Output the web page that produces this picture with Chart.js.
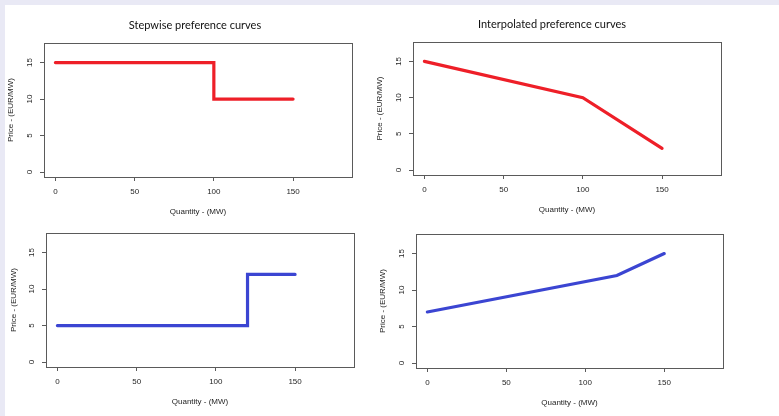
<!DOCTYPE html>
<html>
<head>
<meta charset="utf-8">
<script src="https://cdn.jsdelivr.net/npm/chart.js@4.4.1/dist/chart.umd.min.js"></script>
<style>
  html, body { margin: 0; padding: 0; }
  body { width: 779px; height: 416px; background: #e9e9f5; position: relative; overflow: hidden; }
  #sheet { position: absolute; left: 5px; top: 5px; right: 0; bottom: 0; background: #ffffff; }
  canvas { position: absolute; }
</style>
</head>
<body>
<div id="sheet"></div>
<canvas id="c1" width="384" height="212" style="left:5px;top:5px"></canvas>
<canvas id="c2" width="400" height="212" style="left:372px;top:5px"></canvas>
<canvas id="c3" width="384" height="200" style="left:5px;top:215px"></canvas>
<canvas id="c4" width="400" height="200" style="left:372px;top:215px"></canvas>
<script>
// ---- data ----
const xTickValues = [0, 50, 100, 150];
const yTickValues = [0, 5, 10, 15];

const stepQuantityRed = [0, 100, 150];
const stepPriceRed = [15, 10, 10];

const interpQuantityRed = [0, 100, 150];
const interpPriceRed = [15, 10, 3];

const stepQuantityBlue = [0, 120, 150];
const stepPriceBlue = [5, 12, 12];

const interpQuantityBlue = [0, 120, 150];
const interpPriceBlue = [7, 12, 15];

const titleStep = 'Stepwise preference curves';
const titleInterp = 'Interpolated preference curves';
const xAxisTitle = 'Quantity - (MW)';
const yAxisTitle = 'Price - (EUR/MW)';

// ---- styling ----
const RED = '#ee1f28';
const BLUE = '#3b45d2';
const AXIS_FONT = { family: "'Liberation Sans', Arial, sans-serif", size: 8 };
const TITLE_FONT = "11px Lato, sans-serif";

const frameAndTitle = {
  id: 'frameAndTitle',
  beforeDatasetsDraw(chart, args, opts) {
    const a = chart.chartArea;
    const ctx = chart.ctx;
    ctx.save();
    ctx.strokeStyle = '#5a5a5a';
    ctx.lineWidth = 1;
    ctx.strokeRect(Math.round(a.left) + 0.5, Math.round(a.top) + 0.5,
                   Math.round(a.right - a.left), Math.round(a.bottom - a.top));
    ctx.restore();
  },
  afterDraw(chart, args, opts) {
    if (!opts.text) return;
    const ctx = chart.ctx;
    ctx.save();
    ctx.font = TITLE_FONT;
    ctx.fillStyle = '#111111';
    ctx.textAlign = 'center';
    ctx.textBaseline = 'middle';
    ctx.fillText(opts.text, opts.x, opts.y);
    ctx.restore();
  }
};

function makePanel(id, xs, ys, color, stepped, geo) {
  const points = xs.map((q, i) => ({ x: q, y: ys[i] }));
  return new Chart(document.getElementById(id), {
    type: 'scatter',
    data: {
      datasets: [{
        data: points,
        showLine: true,
        stepped: stepped ? 'before' : false,
        borderColor: color,
        backgroundColor: color,
        borderWidth: 3.2,
        pointRadius: 0,
        borderCapStyle: 'round',
        borderJoinStyle: 'miter',
        tension: 0
      }]
    },
    options: {
      responsive: false,
      animation: false,
      events: [],
      layout: { padding: { left: 0, top: geo.top, right: geo.right, bottom: 0 } },
      plugins: {
        legend: { display: false },
        tooltip: { enabled: false },
        frameAndTitle: { text: geo.title, x: geo.tx, y: geo.ty }
      },
      scales: {
        x: {
          type: 'linear',
          min: -7.2, max: 187.2,
          afterBuildTicks: s => { s.ticks = xTickValues.map(v => ({ value: v })); },
          afterFit: s => { s.height = geo.xh; },
          grid: { drawOnChartArea: false, drawTicks: true, tickLength: 4, color: '#5a5a5a' },
          border: { display: false },
          ticks: { font: AXIS_FONT, color: '#262626', padding: 6, maxRotation: 0, minRotation: 0, autoSkip: false },
          title: { display: true, text: xAxisTitle, font: AXIS_FONT, color: '#1e1e1e', padding: { top: 0, bottom: geo.xtp } }
        },
        y: {
          type: 'linear',
          min: -0.68, max: 17.68,
          afterBuildTicks: s => { s.ticks = yTickValues.map(v => ({ value: v })); },
          afterFit: s => { s.width = geo.yw; },
          grid: { drawOnChartArea: false, drawTicks: true, tickLength: 4, color: '#5a5a5a' },
          border: { display: false },
          ticks: { font: AXIS_FONT, color: '#262626', padding: 5.5, minRotation: 90, maxRotation: 90, crossAlign: 'center', autoSkip: false },
          title: { display: true, text: yAxisTitle, font: AXIS_FONT, color: '#1e1e1e', padding: { top: geo.ytp, bottom: 0 } }
        }
      }
    },
    plugins: [frameAndTitle]
  });
}

makePanel('c1', stepQuantityRed, stepPriceRed, RED, true,
  { top: 38, right: 37, yw: 39, xh: 40, xtp: 0.7, ytp: 1.2, title: titleStep, tx: 190, ty: 20 });
makePanel('c2', interpQuantityRed, interpPriceRed, RED, false,
  { top: 37, right: 51, yw: 41, xh: 42, xtp: 2.2, ytp: 3.2, title: titleInterp, tx: 180, ty: 19.5 });
makePanel('c3', stepQuantityBlue, stepPriceBlue, BLUE, true,
  { top: 18, right: 35, yw: 41, xh: 48, xtp: 8.5, ytp: 4.2, title: '', tx: 0, ty: 0 });
makePanel('c4', interpQuantityBlue, interpPriceBlue, BLUE, false,
  { top: 19, right: 49, yw: 44, xh: 47, xtp: 7.5, ytp: 6.2, title: '', tx: 0, ty: 0 });
</script>
</body>
</html>
